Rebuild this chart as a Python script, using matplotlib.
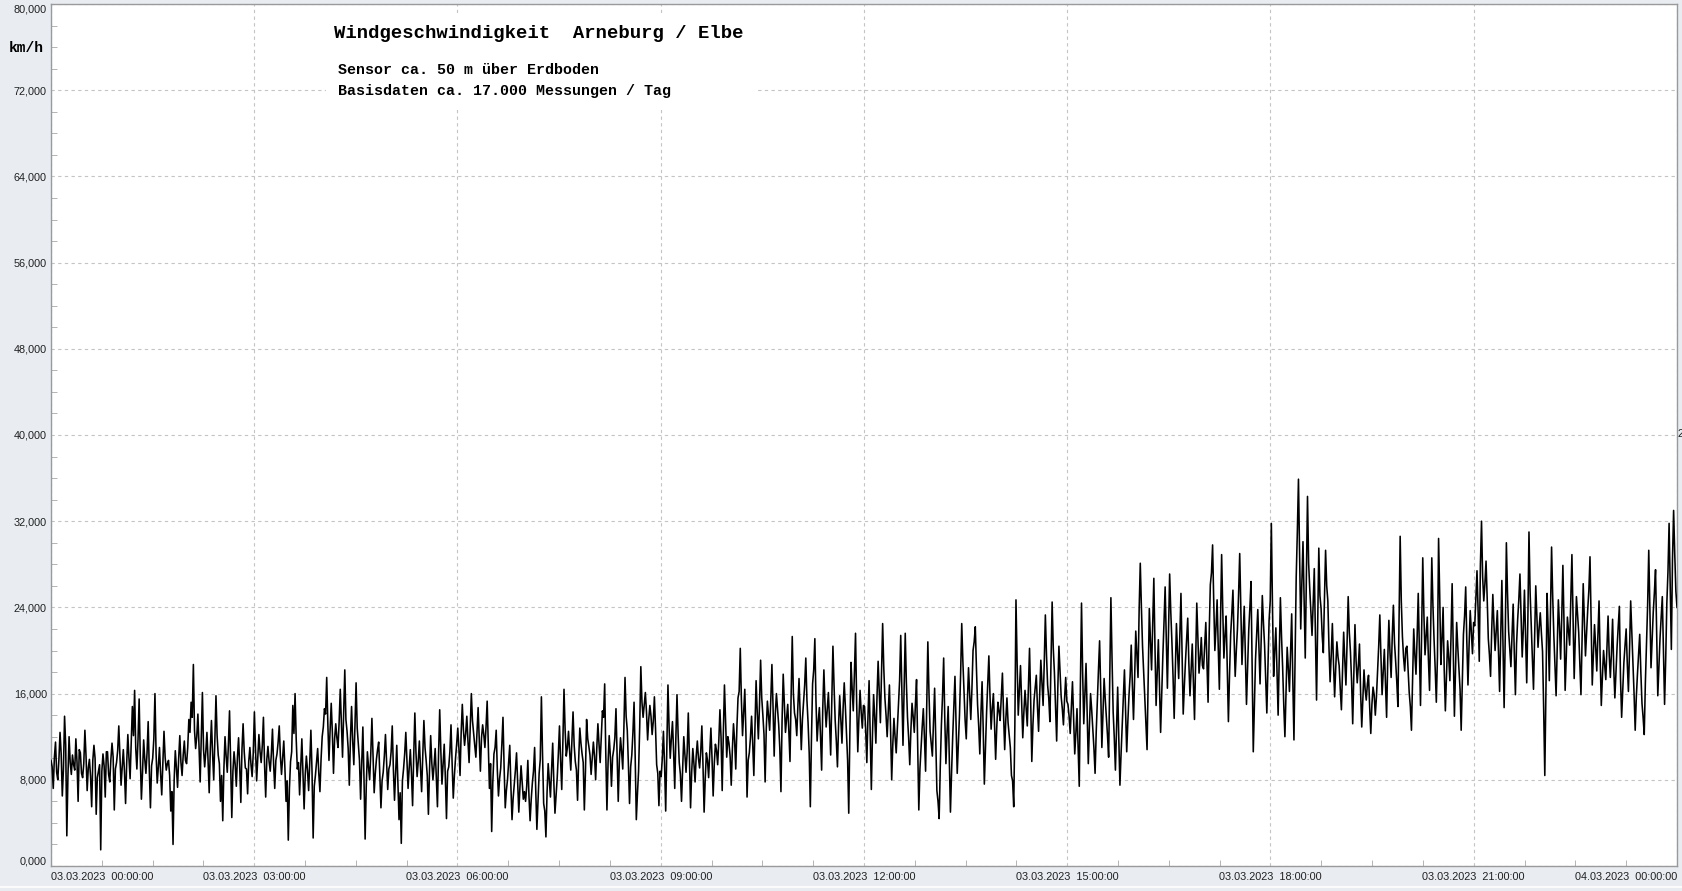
import numpy as np
import matplotlib
matplotlib.use("Agg")
import matplotlib.pyplot as plt
from matplotlib.ticker import MultipleLocator, FixedLocator, FuncFormatter
from matplotlib.patches import Rectangle
from matplotlib.lines import Line2D

# ---------------- data (km/h) ----------------
# even-minute samples (swing values)
h00 = [9.8, 7.2, 11.5, 8.0, 12.4, 6.5, 13.9, 2.8, 12.0, 8.5, 9.4, 11.8, 6.0, 10.5, 8.2, 12.6, 7.0, 9.9, 5.5, 11.2, 4.8, 8.8, 1.5, 10.4, 6.4, 10.6, 7.8, 11.4, 5.2, 9.6]
h01 = [13.0, 7.5, 10.8, 5.8, 12.2, 8.1, 14.8, 16.3, 9.0, 15.5, 6.2, 11.7, 8.6, 13.4, 5.4, 10.0, 16.0, 7.7, 11.0, 6.6, 12.5, 8.9, 9.8, 5.1, 2.0, 10.7, 7.3, 12.1, 8.4, 11.6]
h02 = [9.5, 13.6, 15.2, 18.7, 10.9, 14.1, 7.8, 16.1, 9.2, 12.4, 6.8, 13.5, 8.0, 15.8, 10.3, 6.0, 4.2, 12.0, 8.7, 14.4, 4.5, 10.6, 7.4, 11.9, 5.9, 13.2, 9.1, 6.7, 11.0, 8.3]
h03 = [14.3, 7.9, 12.2, 9.6, 13.8, 6.4, 11.1, 8.8, 12.7, 7.2, 10.4, 13.0, 8.5, 11.6, 6.0, 2.4, 9.7, 14.9, 16.0, 9.0, 6.6, 11.8, 5.3, 10.2, 7.0, 12.6, 2.6, 8.4, 10.9, 6.9]
h04 = [12.0, 14.6, 17.5, 9.8, 15.1, 8.6, 13.2, 11.0, 16.4, 10.1, 18.2, 12.5, 7.5, 14.8, 9.4, 17.0, 11.3, 6.2, 12.9, 2.5, 10.6, 8.0, 13.7, 6.8, 9.9, 11.5, 5.4, 8.7, 12.2, 7.1]
h05 = [9.4, 13.0, 6.1, 11.2, 4.3, 2.1, 9.0, 12.4, 7.2, 10.8, 5.6, 14.2, 8.3, 11.6, 6.9, 13.5, 9.8, 4.8, 12.1, 8.0, 10.9, 5.5, 14.5, 7.6, 11.3, 4.4, 9.2, 13.1, 6.3, 10.0]
h06 = [12.8, 8.4, 15.0, 11.2, 13.9, 9.6, 16.0, 12.3, 10.1, 14.7, 8.8, 13.1, 11.0, 15.3, 7.2, 3.2, 10.4, 12.6, 6.5, 9.1, 13.8, 5.4, 8.0, 11.2, 4.3, 7.6, 10.5, 5.0, 9.3, 6.2]
h07 = [6.0, 9.8, 4.2, 7.7, 11.0, 3.4, 8.6, 15.7, 5.8, 2.7, 9.5, 6.4, 11.4, 4.9, 8.2, 13.0, 7.1, 16.4, 10.2, 12.5, 8.9, 14.3, 9.7, 6.1, 12.8, 10.4, 5.2, 13.6, 11.1, 8.5]
h08 = [11.5, 8.0, 13.2, 9.6, 14.4, 16.9, 5.2, 12.1, 7.4, 10.8, 14.6, 6.0, 11.9, 9.0, 17.5, 12.6, 5.8, 10.3, 15.2, 4.3, 8.8, 18.5, 13.8, 16.1, 11.7, 14.9, 12.2, 15.7, 9.4, 5.6]
h09 = [8.3, 12.5, 5.1, 16.8, 10.0, 13.4, 7.2, 15.9, 9.6, 6.0, 12.0, 8.7, 14.2, 5.4, 10.9, 7.8, 11.6, 9.1, 13.0, 5.0, 10.5, 8.2, 12.8, 6.5, 11.3, 9.4, 14.5, 7.0, 16.8, 10.1]
h10 = [11.4, 7.5, 13.2, 9.0, 15.6, 20.2, 12.1, 16.4, 6.4, 10.5, 13.9, 8.4, 17.2, 11.8, 19.1, 14.0, 7.8, 15.3, 12.6, 18.7, 10.2, 16.0, 13.1, 6.9, 17.8, 12.4, 15.0, 9.7, 21.3, 14.2]
h11 = [12.1, 17.4, 10.8, 15.2, 19.3, 13.3, 5.5, 16.9, 21.1, 11.6, 14.7, 8.9, 18.2, 12.9, 16.1, 10.3, 20.4, 13.5, 9.2, 15.8, 11.4, 17.0, 12.2, 4.9, 18.9, 14.4, 21.6, 10.6, 16.3, 12.8]
h12 = [14.8, 9.6, 17.2, 7.1, 15.9, 11.4, 19.0, 13.3, 22.5, 15.6, 12.0, 16.8, 8.0, 13.7, 10.5, 14.9, 21.4, 11.2, 21.6, 13.8, 9.4, 15.1, 12.4, 17.3, 5.2, 11.0, 14.6, 8.8, 20.8, 12.5]
h13 = [10.2, 16.5, 7.0, 4.4, 13.1, 19.3, 9.5, 14.8, 5.0, 12.0, 17.6, 8.6, 14.0, 22.5, 16.2, 11.8, 18.4, 13.6, 20.0, 22.2, 15.0, 10.4, 17.1, 7.6, 14.3, 19.5, 12.7, 16.0, 9.9, 15.2]
h14 = [13.5, 17.9, 10.8, 15.6, 12.2, 8.4, 5.5, 24.7, 14.0, 18.6, 11.9, 16.3, 13.0, 20.2, 9.7, 15.4, 17.7, 12.5, 19.1, 14.9, 23.3, 16.8, 13.4, 24.5, 18.0, 11.6, 20.4, 15.7, 13.1, 17.5]
h15 = [15.0, 12.3, 17.1, 10.4, 14.6, 7.4, 24.4, 13.2, 18.8, 9.5, 16.0, 12.7, 8.6, 15.4, 20.9, 11.0, 17.4, 13.8, 10.1, 24.9, 14.3, 8.9, 16.6, 7.5, 12.9, 18.2, 10.6, 15.8, 20.5, 13.6]
h16 = [21.8, 17.5, 28.1, 20.4, 15.6, 10.8, 23.9, 18.2, 26.7, 14.9, 21.0, 12.4, 19.6, 25.9, 16.5, 27.1, 20.8, 13.7, 22.5, 17.4, 25.3, 14.1, 19.0, 23.0, 15.8, 20.6, 13.6, 24.4, 17.9, 21.2]
h17 = [18.3, 22.6, 15.2, 26.1, 29.8, 20.0, 24.7, 16.4, 28.9, 19.3, 23.2, 13.4, 21.5, 25.6, 17.6, 22.0, 29.0, 18.7, 24.1, 15.0, 21.9, 26.4, 10.6, 19.2, 23.8, 16.9, 25.1, 20.5, 14.2, 22.8]
h18 = [31.8, 17.6, 22.1, 14.0, 24.9, 18.4, 12.0, 20.3, 16.2, 23.4, 11.7, 26.8, 35.9, 22.0, 30.1, 19.3, 34.3, 25.7, 21.4, 27.6, 15.4, 29.5, 23.9, 19.8, 29.3, 24.6, 17.1, 22.5, 15.7, 20.8]
h19 = [18.6, 14.5, 21.7, 16.8, 25.0, 19.9, 13.2, 22.4, 17.0, 20.6, 12.9, 18.2, 15.4, 17.7, 12.3, 16.6, 14.0, 18.0, 23.3, 15.9, 20.1, 13.8, 22.8, 17.5, 24.2, 19.0, 14.8, 30.6, 21.3, 18.1]
h20 = [20.4, 16.1, 12.6, 22.0, 17.8, 25.3, 14.9, 28.6, 19.6, 23.1, 16.3, 28.6, 21.0, 15.2, 30.4, 18.7, 24.0, 14.4, 20.9, 17.2, 26.2, 13.9, 22.6, 18.4, 12.6, 21.5, 25.9, 16.8, 23.7, 19.7]
h21 = [22.3, 27.4, 19.0, 32.0, 24.6, 28.3, 21.1, 17.6, 25.2, 20.0, 23.7, 16.2, 26.5, 14.7, 30.0, 21.8, 18.5, 24.3, 15.9, 22.9, 27.1, 19.4, 25.6, 17.0, 31.0, 22.2, 16.4, 26.0, 20.3, 23.5]
h22 = [19.9, 8.4, 25.3, 17.2, 29.6, 21.4, 15.8, 24.7, 19.2, 27.9, 16.3, 23.1, 20.5, 28.9, 17.4, 25.0, 21.7, 15.9, 26.2, 19.5, 23.8, 28.7, 16.8, 22.4, 18.1, 24.6, 14.9, 20.0, 17.3, 23.2]
h23 = [17.5, 22.9, 15.6, 20.4, 24.1, 13.8, 18.9, 22.0, 16.2, 24.6, 19.0, 12.6, 17.8, 21.5, 15.1, 12.2, 20.6, 29.3, 18.4, 23.6, 27.5, 15.8, 21.2, 25.0, 15.0, 24.4, 31.8, 20.1, 33.0, 25.5]

# odd-minute samples (dense core of the trace)
c00 = [9.2, 10.1, 8.7, 9.9, 10.4, 9.0, 11.2, 8.4, 9.6, 10.3, 8.9, 9.7, 10.8, 8.6, 9.5, 10.2, 9.1, 8.3, 9.8, 10.0, 8.2, 9.4, 8.8, 9.3, 10.6, 8.5, 9.9, 10.1, 9.0, 10.7]
c01 = [10.3, 9.1, 8.8, 9.6, 10.0, 11.4, 12.1, 10.9, 11.7, 10.2, 8.7, 9.9, 10.5, 8.9, 9.3, 11.8, 10.4, 9.2, 8.6, 9.7, 10.1, 9.5, 8.4, 6.9, 8.0, 9.1, 10.0, 9.6, 10.3, 9.8]
c02 = [11.0, 12.4, 13.8, 12.6, 12.0, 11.1, 11.9, 10.8, 10.6, 9.8, 10.9, 10.4, 11.6, 12.1, 9.5, 8.4, 9.0, 10.2, 11.3, 9.6, 8.8, 9.4, 10.1, 9.2, 10.8, 10.6, 9.0, 9.7, 9.4, 10.5]
c03 = [10.8, 10.1, 10.6, 11.2, 9.4, 9.9, 9.7, 10.4, 9.5, 9.8, 11.5, 10.2, 10.0, 9.1, 7.9, 7.2, 10.6, 12.3, 11.8, 9.6, 9.2, 8.7, 8.5, 8.9, 9.6, 8.8, 7.4, 9.7, 8.6, 9.9]
c04 = [12.9, 14.1, 13.2, 12.6, 12.4, 11.8, 11.9, 13.4, 13.2, 14.0, 13.6, 10.9, 11.8, 11.6, 13.0, 12.8, 9.8, 9.4, 8.1, 7.4, 9.2, 10.4, 10.1, 8.6, 10.8, 8.3, 7.9, 10.2, 9.6, 9.0]
c05 = [10.6, 9.0, 8.7, 7.6, 6.8, 7.9, 10.4, 9.7, 9.1, 8.6, 10.2, 10.5, 9.7, 9.1, 10.3, 11.0, 8.4, 8.9, 9.6, 9.3, 8.2, 10.4, 10.7, 9.4, 8.2, 8.8, 10.6, 9.5, 8.4, 11.3]
c06 = [10.9, 12.4, 12.6, 12.3, 11.6, 12.8, 13.5, 11.2, 12.3, 11.6, 11.9, 12.2, 12.9, 11.4, 9.5, 7.8, 11.0, 8.9, 8.1, 11.3, 9.2, 7.0, 9.6, 7.4, 6.3, 8.9, 7.7, 7.3, 7.8, 6.9]
c07 = [7.4, 6.5, 6.2, 8.8, 7.0, 6.1, 9.9, 10.4, 5.1, 6.8, 7.9, 8.9, 7.8, 6.6, 10.4, 9.8, 11.5, 12.6, 11.0, 10.6, 11.7, 11.2, 8.9, 9.9, 11.4, 9.6, 8.8, 11.8, 10.3, 10.0]
c08 = [10.2, 10.9, 11.3, 12.0, 13.8, 10.3, 9.6, 10.2, 10.1, 11.9, 10.2, 9.8, 10.6, 12.8, 13.9, 9.4, 9.2, 12.4, 10.1, 6.7, 12.9, 15.2, 14.9, 14.3, 13.6, 13.9, 13.4, 12.8, 8.6, 8.8]
c09 = [10.0, 9.4, 10.8, 12.9, 11.8, 10.6, 11.9, 12.2, 8.5, 8.9, 10.3, 10.6, 10.1, 8.7, 9.5, 10.2, 10.0, 10.6, 9.4, 8.1, 9.8, 10.4, 10.0, 9.5, 10.7, 11.6, 11.9, 12.3, 13.4, 12.0]
c10 = [10.2, 10.8, 11.6, 12.8, 16.2, 15.4, 14.2, 12.3, 9.8, 11.9, 11.4, 12.6, 14.3, 14.9, 15.6, 12.2, 12.7, 14.0, 15.4, 14.8, 14.1, 14.6, 10.9, 13.5, 15.1, 13.7, 12.5, 15.8, 16.0, 13.6]
c11 = [14.9, 14.0, 13.6, 16.8, 15.4, 10.5, 11.8, 18.2, 15.3, 13.4, 12.1, 14.6, 15.0, 14.6, 13.4, 15.2, 16.7, 11.6, 13.1, 13.6, 14.6, 14.8, 9.8, 12.4, 16.5, 17.8, 15.2, 13.7, 14.3, 14.9]
c12 = [12.6, 13.8, 12.0, 12.2, 13.8, 15.7, 16.2, 17.9, 18.4, 14.0, 14.5, 12.7, 11.3, 12.0, 12.8, 17.2, 16.5, 16.3, 17.0, 11.9, 12.6, 13.9, 15.0, 11.4, 9.0, 12.9, 11.9, 14.6, 16.1, 11.4]
c13 = [13.3, 11.6, 6.0, 9.2, 15.8, 13.6, 12.4, 10.1, 8.7, 14.7, 13.2, 11.4, 17.8, 19.0, 13.5, 15.3, 16.0, 16.4, 20.8, 18.4, 13.0, 14.2, 12.7, 11.0, 16.9, 15.8, 14.6, 13.2, 12.9, 14.4]
c14 = [15.8, 14.1, 13.6, 13.3, 11.0, 7.9, 13.0, 18.9, 16.4, 15.1, 14.3, 14.6, 16.7, 15.4, 13.1, 16.6, 14.8, 16.0, 17.0, 18.8, 19.6, 15.6, 18.9, 20.2, 14.7, 16.4, 18.1, 14.6, 15.5, 15.3]
c15 = [13.9, 14.8, 13.8, 12.3, 10.9, 16.8, 17.9, 16.0, 14.3, 13.0, 14.5, 10.9, 12.4, 18.2, 16.3, 14.2, 15.5, 12.1, 17.8, 19.3, 11.9, 12.8, 11.8, 10.4, 15.6, 14.3, 13.4, 17.6, 16.8, 17.4]
c16 = [19.6, 23.8, 24.0, 17.9, 13.2, 17.4, 20.9, 22.3, 20.4, 18.0, 16.8, 16.1, 22.6, 21.1, 21.7, 23.6, 17.6, 18.2, 19.8, 21.4, 19.6, 16.7, 21.0, 18.8, 18.2, 17.1, 18.9, 21.0, 19.3, 18.6]
c17 = [20.4, 18.9, 21.6, 27.2, 24.6, 22.1, 20.3, 22.5, 23.8, 21.4, 18.4, 17.8, 23.4, 21.3, 20.0, 25.2, 23.6, 21.5, 19.6, 18.3, 24.0, 18.5, 14.8, 21.4, 20.3, 21.0, 22.6, 17.2, 18.3, 24.6]
c18 = [24.1, 20.0, 18.2, 19.6, 21.3, 14.9, 16.1, 18.4, 19.7, 17.2, 18.9, 31.0, 28.6, 26.3, 24.8, 26.9, 28.1, 23.6, 24.3, 21.2, 22.6, 25.1, 21.4, 24.8, 26.0, 20.3, 19.6, 18.8, 18.4, 19.4]
c19 = [16.4, 18.0, 19.1, 20.6, 21.7, 17.2, 17.8, 19.0, 18.6, 16.1, 15.6, 16.4, 16.9, 14.8, 15.0, 15.9, 15.7, 20.4, 19.4, 18.0, 16.9, 19.1, 19.8, 21.3, 20.7, 17.1, 22.4, 24.6, 19.4, 20.2]
c20 = [18.3, 14.8, 17.4, 19.6, 21.2, 20.0, 22.1, 23.4, 21.4, 19.2, 22.0, 24.2, 18.3, 19.4, 25.1, 21.0, 18.2, 17.6, 19.3, 21.3, 19.8, 18.2, 20.3, 16.4, 16.9, 23.2, 20.8, 20.5, 21.7, 22.6]
c21 = [24.8, 23.6, 27.9, 26.8, 26.2, 24.9, 19.6, 21.8, 22.4, 21.9, 19.8, 21.3, 20.4, 21.2, 25.3, 20.1, 21.4, 19.8, 20.6, 24.7, 23.4, 22.0, 21.2, 22.8, 25.4, 19.3, 21.0, 23.2, 22.1, 21.6]
c22 = [14.6, 16.2, 21.9, 23.4, 25.0, 18.6, 20.2, 22.3, 23.1, 22.6, 19.4, 21.8, 24.6, 23.0, 21.2, 23.3, 18.8, 21.0, 22.9, 21.7, 25.6, 22.6, 19.5, 20.4, 21.2, 19.3, 17.6, 18.7, 20.4, 19.6]
c23 = [19.8, 18.4, 17.9, 22.2, 17.4, 16.3, 20.4, 18.8, 20.1, 21.8, 16.0, 15.7, 19.6, 18.0, 13.8, 17.0, 24.2, 23.8, 21.0, 25.4, 21.7, 18.6, 23.1, 20.0, 19.2, 27.3, 26.0, 28.4, 29.0, 24.0]

x_tick_hours = [0, 3, 6, 9, 12, 15, 18, 21, 24]
x_tick_labels = ["03.03.2023  00:00:00", "03.03.2023  03:00:00", "03.03.2023  06:00:00",
                 "03.03.2023  09:00:00", "03.03.2023  12:00:00", "03.03.2023  15:00:00",
                 "03.03.2023  18:00:00", "03.03.2023  21:00:00", "04.03.2023  00:00:00"]
y_ticks = [0, 8, 16, 24, 32, 40, 48, 56, 64, 72, 80]

title = "Windgeschwindigkeit  Arneburg / Elbe"
sub1 = "Sensor ca. 50 m über Erdboden"
sub2 = "Basisdaten ca. 17.000 Messungen / Tag"
unit = "km/h"

# ---------------- build series ----------------
swing = np.array(h00 + h01 + h02 + h03 + h04 + h05 + h06 + h07 + h08 + h09 + h10 + h11 +
                 h12 + h13 + h14 + h15 + h16 + h17 + h18 + h19 + h20 + h21 + h22 + h23)
core = np.array(c00 + c01 + c02 + c03 + c04 + c05 + c06 + c07 + c08 + c09 + c10 + c11 +
                c12 + c13 + c14 + c15 + c16 + c17 + c18 + c19 + c20 + c21 + c22 + c23)
speed = np.empty(swing.size + core.size)
speed[0::2] = swing
speed[1::2] = core
t = np.linspace(0, 24, speed.size)

# ---------------- figure ----------------
W, H = 1683, 891
fig = plt.figure(figsize=(W / 100, H / 100), dpi=100, facecolor="#E9EDF2")
ax = fig.add_axes([51 / W, 1 - 866 / H, (1677 - 51) / W, (866 - 4) / H])
ax.set_facecolor("white")

ax.plot(t, speed, color="black", lw=1.15, zorder=3)

ax.set_xlim(0, 24)
ax.set_ylim(0, 80)

ax.xaxis.set_major_locator(FixedLocator(x_tick_hours))
ax.xaxis.set_minor_locator(MultipleLocator(0.75))
ax.yaxis.set_major_locator(FixedLocator(y_ticks))
ax.yaxis.set_minor_locator(MultipleLocator(2))

ax.set_xticklabels(x_tick_labels)
ax.yaxis.set_major_formatter(FuncFormatter(lambda v, p: f"{v:.3f}".replace(".", ",")))

for lab in ax.get_xticklabels() + ax.get_yticklabels():
    lab.set_fontfamily("Liberation Sans")
    lab.set_fontsize(7.8)
    lab.set_color("#202020")
xl = ax.get_xticklabels()
xl[0].set_horizontalalignment("left")
xl[-1].set_horizontalalignment("right")
yl = ax.get_yticklabels()
yl[0].set_verticalalignment("bottom")
yl[-1].set_verticalalignment("top")

ax.tick_params(axis="both", which="both", direction="in", color="#A8A8A8")
ax.tick_params(axis="x", which="major", length=0, pad=4)
ax.tick_params(axis="y", which="major", length=0, pad=3)
ax.tick_params(axis="both", which="minor", length=4)

ax.grid(True, which="major", color="#C4C4C4", lw=0.8, linestyle=(0, (3, 3)), zorder=1)
for s in ax.spines.values():
    s.set_color("#9A9A9A")
    s.set_linewidth(1.0)

# white box behind the title block
ax.add_patch(Rectangle((326 / W, 1 - 110 / H), (757 - 326) / W, (110 - 13) / H,
                       transform=fig.transFigure, facecolor="white", edgecolor="none", zorder=2))

mono = "Liberation Mono"
fig.text(334 / W, 1 - 33 / H, title, family=mono, weight="bold", fontsize=13.6,
         ha="left", va="center", color="black", zorder=5)
fig.text(338 / W, 1 - 70.5 / H, sub1, family=mono, weight="bold", fontsize=10.8,
         ha="left", va="center", color="black", zorder=5)
fig.text(338 / W, 1 - 91 / H, sub2, family=mono, weight="bold", fontsize=10.8,
         ha="left", va="center", color="black", zorder=5)
fig.text(26 / W, 1 - 48 / H, unit, family=mono, weight="bold", fontsize=10.5,
         ha="center", va="center", color="black")
fig.text(1678 / W, 1 - 434 / H, "2", family="Liberation Sans", fontsize=7.8,
         ha="left", va="center", color="#202020")

fig.add_artist(Line2D([0, 1], [1 - 886.5 / H, 1 - 886.5 / H], transform=fig.transFigure,
                      color="white", lw=1.2))

fig.savefig("out.png", dpi=100, facecolor=fig.get_facecolor())
